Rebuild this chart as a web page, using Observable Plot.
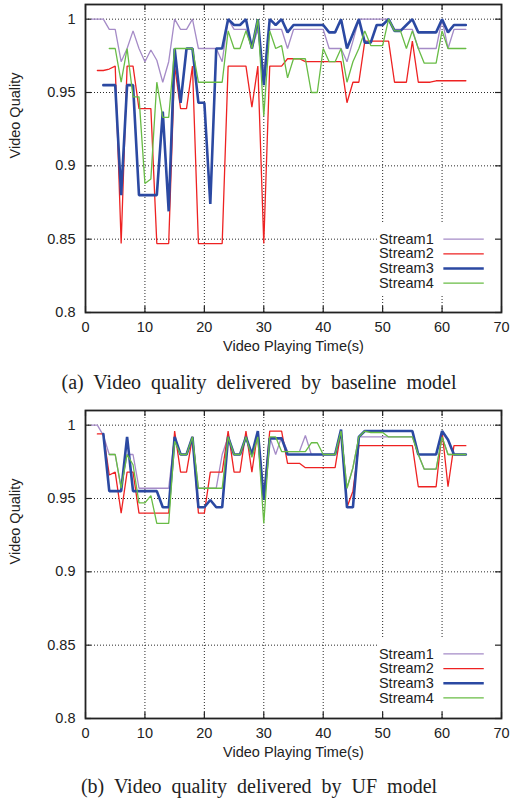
<!DOCTYPE html>
<html><head><meta charset="utf-8">
<script src="https://cdn.jsdelivr.net/npm/d3@7"></script>
<script src="https://cdn.jsdelivr.net/npm/@observablehq/plot@0.6"></script>
<style>
body{margin:0;background:#fff;width:511px;overflow:hidden;}
.cap{font-family:"Liberation Serif","Times New Roman",serif;font-size:20px;word-spacing:5px;color:#222;text-align:center;padding-left:7px;box-sizing:border-box;width:511px;}
#cap1{height:44px;line-height:40px;}
#cap2{height:38px;line-height:36px;}
svg{display:block;}
</style></head><body>
<div id="chart1"></div><div id="cap1" class="cap">(a) Video quality delivered by baseline model</div>
<div id="chart2"></div><div id="cap2" class="cap">(b) Video quality delivered by UF model</div>
<script>
// ---- shared axis/legend data ----
const seriesNames = ["Stream1", "Stream2", "Stream3", "Stream4"];
const seriesColors = ["#A58BC7", "#EE2222", "#2B49A2", "#68BC45"];
const seriesWidths = [1.3, 1.3, 2.6, 1.3];
const seriesStart = [1, 2, 3, 4]; // first time (s) of each stream
const xTicks = [0, 10, 20, 30, 40, 50, 60, 70];
const xGrid = [10, 20, 30, 40, 50, 60];
const yTicks = [0.8, 0.85, 0.9, 0.95, 1];
const yTickLabels = ["0.8", "0.85", "0.9", "0.95", "1"];
const yGrid = [0.85, 0.9, 0.95, 1];
const xLabel = "Video Playing Time(s)";
const yLabel = "Video Quality";

// ---- (a) baseline model ----
const baseStream1 = [1.0,1.0,1.0,0.993,0.993,0.971,0.98,0.992,0.98,0.971,0.979,0.972,0.957,0.971,1.0,0.993,0.993,1.0,0.98,0.98,0.98,0.98,0.971,1.0,0.993,0.993,0.993,0.98,0.993,0.964,0.993,0.993,0.993,0.98,0.993,0.993,0.993,0.993,0.993,0.993,0.98,0.98,0.98,0.971,0.985,1.0,1.0,1.0,1.0,1.0,1.0,0.993,0.993,0.993,0.993,0.98,0.98,0.98,0.98,1.0,0.98,0.993,0.993,0.993];
const baseStream2 = [0.965,0.965,0.966,0.968,0.847,0.968,0.968,0.939,0.939,0.939,0.847,0.847,0.847,0.968,0.939,0.939,0.968,0.847,0.847,0.847,0.847,0.847,0.968,0.968,0.968,0.968,0.94,0.968,0.847,0.968,0.968,0.968,0.973,0.973,0.973,0.971,0.971,0.971,0.971,0.971,0.971,0.971,0.943,0.957,0.957,0.985,0.985,0.985,0.985,0.985,0.957,0.957,0.957,0.985,0.957,0.957,0.957,0.958,0.958,0.958,0.958,0.958,0.958];
const baseStream3 = [0.955,0.955,0.955,0.88,0.955,0.955,0.88,0.88,0.88,0.88,0.937,0.869,0.98,0.943,0.98,0.98,0.943,0.943,0.874,0.98,0.98,1.0,0.996,0.996,1.0,0.98,1.0,0.955,1.0,0.996,1.0,0.991,0.996,0.996,0.996,0.996,0.996,0.996,0.991,0.991,1.0,0.98,0.99,1.0,0.984,0.984,0.996,0.996,1.0,0.992,0.992,0.996,1.0,0.991,0.991,0.991,0.991,1.0,0.991,0.996,0.996,0.996];
const baseStream4 = [0.98,0.98,0.957,0.98,0.947,0.947,0.888,0.891,0.957,0.933,0.933,0.98,0.98,0.98,0.98,0.957,0.957,0.957,0.957,0.957,0.992,0.98,0.98,0.992,0.98,1.0,0.934,0.992,0.98,0.982,0.96,0.973,0.973,0.973,0.95,0.95,0.98,0.971,0.971,0.98,0.957,0.971,0.98,0.992,0.982,0.982,0.982,1.0,0.992,0.992,0.98,0.992,0.98,0.97,0.97,0.97,0.992,0.98,0.98,0.98,0.98];

// ---- (b) UF model ----
const ufStream1 = [1.0,1.0,0.993,0.98,0.98,0.957,0.98,0.98,0.957,0.957,0.957,0.957,0.957,0.957,0.992,0.98,0.98,0.992,0.957,0.957,0.957,0.957,0.98,0.992,0.98,0.98,0.992,0.98,0.992,0.95,0.992,0.98,0.992,0.982,0.982,0.982,0.993,0.98,0.98,0.98,0.98,0.98,0.996,0.957,0.971,0.992,0.992,0.992,0.992,0.992,0.992,0.992,0.992,0.992,0.992,0.98,0.97,0.97,0.97,0.992,0.98,0.98,0.98,0.98];
const ufStream2 = [0.994,0.994,0.966,0.968,0.94,0.968,0.968,0.94,0.94,0.94,0.94,0.94,0.94,0.996,0.968,0.968,0.992,0.94,0.94,0.968,0.968,0.968,0.996,0.968,0.968,0.996,0.968,0.996,0.95,0.996,0.996,0.996,0.974,0.974,0.974,0.971,0.971,0.971,0.971,0.971,0.971,0.996,0.944,0.955,0.986,0.986,0.986,0.986,0.986,0.986,0.986,0.986,0.986,0.986,0.958,0.958,0.958,0.958,0.996,0.958,0.986,0.986,0.986];
const ufStream3 = [0.994,0.955,0.955,0.955,0.992,0.955,0.955,0.955,0.955,0.955,0.944,0.944,0.992,0.98,0.98,0.992,0.944,0.944,0.949,0.944,0.944,0.992,0.98,0.98,0.992,0.98,0.996,0.949,0.991,0.991,0.991,0.98,0.98,0.98,0.98,0.98,0.98,0.98,0.98,0.98,0.997,0.944,0.944,0.992,0.996,0.996,0.996,0.996,0.996,0.996,0.996,0.996,0.996,0.98,0.98,0.98,0.98,0.996,0.99,0.98,0.98,0.98];
const ufStream4 = [0.98,0.98,0.957,0.98,0.973,0.947,0.947,0.952,0.933,0.933,0.933,0.989,0.98,0.98,0.992,0.957,0.957,0.957,0.957,0.957,0.992,0.98,0.98,0.992,0.978,0.992,0.933,0.992,0.992,0.982,0.982,0.982,0.982,0.982,0.988,0.988,0.98,0.98,0.98,0.996,0.957,0.971,0.992,0.996,0.995,0.995,0.995,0.992,0.992,0.992,0.992,0.992,0.98,0.97,0.97,0.97,0.992,0.98,0.98,0.98,0.98];

function makeChart(streams, legendTopY) {
  const xDom = [0, 70], yDom = [0.8, 1.01];
  const W = 511, H = 362, mL = 85, mR = 10, mT = 4, mB = 50;
  const pxX = (xDom[1] - xDom[0]) / (W - mL - mR);
  const pxY = (yDom[1] - yDom[0]) / (H - mT - mB);
  const tick = 6;
  const marks = [];
  // dotted grid
  marks.push(Plot.ruleX(xGrid, {x: d => d, y1: yDom[0], y2: yDom[1], stroke: "#111", strokeWidth: 0.9, strokeDasharray: "1,2"}));
  marks.push(Plot.ruleY(yGrid, {y: d => d, x1: xDom[0], x2: xDom[1], stroke: "#111", strokeWidth: 0.9, strokeDasharray: "1,2"}));
  // data lines
  streams.forEach((vals, k) => {
    const data = vals.map((v, i) => ({t: seriesStart[k] + i, v}));
    marks.push(Plot.line(data, {x: "t", y: "v", stroke: seriesColors[k], strokeWidth: seriesWidths[k], strokeLinejoin: "miter"}));
  });
  // legend box
  const rowStep = 0.01;
  const boxTop = legendTopY + 0.011, boxBot = legendTopY - 3 * rowStep - 0.009;
  marks.push(Plot.rect([0], {x1: 49.2, x2: xDom[1], y1: boxBot, y2: boxTop, fill: "#fff"}));
  const legendRows = seriesNames.map((name, k) => ({name, k, y: legendTopY - k * rowStep}));
  marks.push(Plot.text(legendRows, {x: 58.6, y: "y", text: "name", textAnchor: "end", fontSize: 14.5, fill: "#222"}));
  legendRows.forEach(r => {
    marks.push(Plot.ruleY([r], {y: "y", x1: 60.3, x2: 67.1, stroke: seriesColors[r.k], strokeWidth: seriesWidths[r.k]}));
  });
  // inward ticks on all four sides
  marks.push(Plot.ruleX(xTicks, {x: d => d, y1: yDom[0], y2: yDom[0] + tick * pxY, stroke: "#222", strokeWidth: 1.2}));
  marks.push(Plot.ruleX(xTicks, {x: d => d, y1: yDom[1] - tick * pxY, y2: yDom[1], stroke: "#222", strokeWidth: 1.2}));
  marks.push(Plot.ruleY(yTicks, {y: d => d, x1: xDom[0], x2: xDom[0] + tick * pxX, stroke: "#222", strokeWidth: 1.2}));
  marks.push(Plot.ruleY(yTicks, {y: d => d, x1: xDom[1] - tick * pxX, x2: xDom[1], stroke: "#222", strokeWidth: 1.2}));
  marks.push(Plot.frame({stroke: "#222", strokeWidth: 1.8}));
  // axes labels
  marks.push(Plot.axisX({ticks: xTicks, tickSize: 0, tickPadding: 9, tickFormat: d => String(d), fontSize: 14.5, label: null}));
  marks.push(Plot.axisY({ticks: yTicks, tickSize: 0, tickPadding: 10, tickFormat: d => yTickLabels[yTicks.indexOf(d)], fontSize: 14.5, label: null}));
  marks.push(Plot.text([xLabel], {frameAnchor: "bottom", dy: 34, text: d => d, fontSize: 14.5, fill: "#222", lineAnchor: "middle"}));
  marks.push(Plot.text([yLabel], {frameAnchor: "left", dx: -70, rotate: -90, text: d => d, fontSize: 14.5, fill: "#222", lineAnchor: "middle"}));
  return Plot.plot({
    width: W, height: H, marginLeft: mL, marginRight: mR, marginTop: mT, marginBottom: mB,
    x: {domain: xDom}, y: {domain: yDom},
    style: {fontFamily: '"Liberation Sans", Arial, sans-serif', fontSize: "14.5px", color: "#222", background: "#fff"},
    marks
  });
}

document.getElementById("chart1").appendChild(makeChart([baseStream1, baseStream2, baseStream3, baseStream4], 0.85));
document.getElementById("chart2").appendChild(makeChart([ufStream1, ufStream2, ufStream3, ufStream4], 0.844));
</script></body></html>
